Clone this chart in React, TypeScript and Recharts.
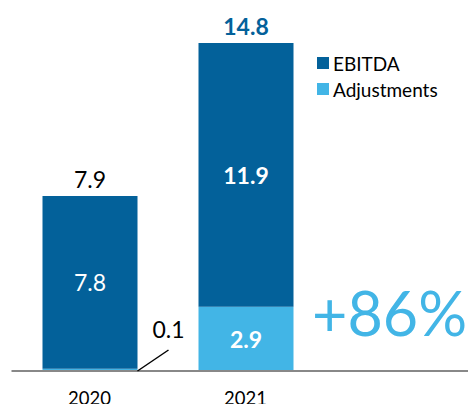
import React from 'react';
import { BarChart, Bar, XAxis, YAxis, LabelList } from 'recharts';

const years = ['2020', '2021'];
const ebitda = [7.8, 11.9];
const adjustments = [0.1, 2.9];
const totals = [7.9, 14.8];
const growthLabel = '+86%';

const DARK = '#03619A';
const LIGHT = '#42B5E6';
const FONT = 'Lato, "Open Sans", sans-serif';

const data = years.map((y, i) => ({ year: y, ebitda: ebitda[i], adjustments: adjustments[i], total: totals[i] }));

const EbitdaLabel = (props: any) => {
  const { x, y, width, height, index } = props;
  const cx = x + width / 2;
  const bold = index === 1;
  return (
    <g>
      <text x={cx} y={y + height / 2} textAnchor="middle" dominantBaseline="central" fill="#fff"
        fontSize={23} fontWeight={bold ? 700 : 400} fontFamily={FONT}>
        {ebitda[index].toFixed(1)}
      </text>
      <text x={cx} y={y - 17} textAnchor="middle" dominantBaseline="central"
        fill={bold ? DARK : '#000'} fontSize={23} fontWeight={bold ? 700 : 400} fontFamily={FONT}>
        {totals[index].toFixed(1)}
      </text>
    </g>
  );
};

const AdjLabel = (props: any) => {
  const { x, y, width, height, index } = props;
  if (index === 0) {
    const bx = x + width;
    const by = y + height;
    return (
      <g>
        <line x1={bx} y1={by} x2={bx + 31} y2={by - 21} stroke="#000" strokeWidth={1.5} />
        <text x={bx + 31} y={by - 42} textAnchor="middle" dominantBaseline="central" fill="#000"
          fontSize={23} fontFamily={FONT}>
          {adjustments[index].toFixed(1)}
        </text>
      </g>
    );
  }
  return (
    <text x={x + width / 2} y={y + height / 2} textAnchor="middle" dominantBaseline="central" fill="#fff"
      fontSize={23} fontWeight={700} fontFamily={FONT}>
      {adjustments[index].toFixed(1)}
    </text>
  );
};

const legendItems = [
  { name: 'EBITDA', color: DARK },
  { name: 'Adjustments', color: LIGHT },
];

export default function App() {
  return (
    <div style={{ position: 'absolute', left: 0, top: 0, width: 468, height: 404, background: '#fff', overflow: 'hidden' }}>
      <BarChart width={468} height={404} data={data}
        margin={{ top: 16.4, right: 0, bottom: 0, left: 11.5 }} barSize={95}>
        <XAxis dataKey="year" height={33} padding={{ left: 0, right: 144.5 }}
          axisLine={{ stroke: '#888', strokeWidth: 2 }} tickLine={false}
          tick={{ fill: '#000', fontSize: 18.5, fontFamily: FONT }} tickMargin={15} />
        <YAxis hide domain={[0, 16]} />
        <Bar dataKey="adjustments" stackId="a" fill={LIGHT} isAnimationActive={false}>
          <LabelList dataKey="adjustments" content={AdjLabel} />
        </Bar>
        <Bar dataKey="ebitda" stackId="a" fill={DARK} isAnimationActive={false}>
          <LabelList dataKey="ebitda" content={EbitdaLabel} />
        </Bar>
      </BarChart>
      <div style={{ position: 'absolute', left: 317, top: 50, fontFamily: FONT, fontSize: 19, color: '#000' }}>
        {legendItems.map((it) => (
          <div key={it.name} style={{ display: 'flex', alignItems: 'center', height: 26 }}>
            <span style={{ display: 'inline-block', width: 12, height: 12, background: it.color, marginRight: 4 }} />
            <span>{it.name}</span>
          </div>
        ))}
      </div>
      <div style={{ position: 'absolute', left: 312, top: 278, fontFamily: FONT, fontSize: 61, color: LIGHT, lineHeight: '70px' }}>
        {growthLabel}
      </div>
    </div>
  );
}
